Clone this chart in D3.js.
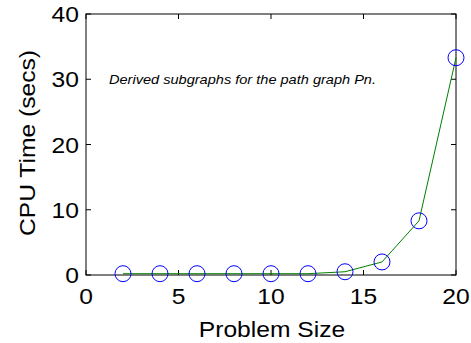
<!DOCTYPE html>
<html>
<head>
<meta charset="utf-8">
<script src="https://cdn.jsdelivr.net/npm/d3@7"></script>
<style>
  body { margin: 0; background: #fff; }
  text { font-family: "Liberation Sans", Arial, sans-serif; fill: #000; }
</style>
</head>
<body>
<div id="chart"></div>
<script>
const WIDTH = 471;
const HEIGHT = 343;

const problemSize = [2, 4, 6, 8, 10, 12, 14, 16, 18, 20];
const cpuTime = [0.2, 0.2, 0.2, 0.2, 0.2, 0.2, 0.5, 2.0, 8.3, 33.3];
const xTicks = [0, 5, 10, 15, 20];
const yTicks = [0, 10, 20, 30, 40];

const LEFT = 86, RIGHT = 456, TOP = 14, BOTTOM = 275;
const SX = 1.12; // text in the reference looks stretched along its length

const svg = d3.select('#chart').append('svg')
  .attr('width', WIDTH)
  .attr('height', HEIGHT);

const x = d3.scaleLinear().domain([0, 20]).range([LEFT, RIGHT]);
const y = d3.scaleLinear().domain([0, 40]).range([BOTTOM, TOP]);

// frame
svg.append('rect')
  .attr('x', LEFT).attr('y', TOP)
  .attr('width', RIGHT - LEFT).attr('height', BOTTOM - TOP)
  .attr('fill', 'none').attr('stroke', '#000').attr('stroke-width', 1);

const tick = 5;
const axisG = svg.append('g').attr('stroke', '#000').attr('stroke-width', 1);
xTicks.forEach(t => {
  axisG.append('line').attr('x1', x(t)).attr('x2', x(t)).attr('y1', BOTTOM).attr('y2', BOTTOM - tick);
  axisG.append('line').attr('x1', x(t)).attr('x2', x(t)).attr('y1', TOP).attr('y2', TOP + tick);
});
yTicks.forEach(t => {
  axisG.append('line').attr('x1', LEFT).attr('x2', LEFT + tick).attr('y1', y(t)).attr('y2', y(t));
  axisG.append('line').attr('x1', RIGHT).attr('x2', RIGHT - tick).attr('y1', y(t)).attr('y2', y(t));
});

const label = (tx, ty, str, size, anchor, extra) => {
  const g = svg.append('g').attr('transform', `translate(${tx},${ty}) ${extra || ''} scale(${SX},1)`);
  return g.append('text').attr('font-size', size).attr('text-anchor', anchor).text(str);
};

xTicks.forEach(t => label(x(t), 304, t, 22, 'middle'));
yTicks.forEach(t => label(LEFT - 7, y(t) + 8, t, 22, 'end'));

label(272, 337, 'Problem Size', 22, 'middle');
label(35, 143, 'CPU Time (secs)', 22, 'middle', 'rotate(-90)');

label(109, 84, 'Derived subgraphs for the path graph Pn.', 13, 'start')
  .attr('font-style', 'italic');

const data = problemSize.map((d, i) => ({ x: d, y: cpuTime[i] }));

svg.append('path')
  .datum(data)
  .attr('fill', 'none')
  .attr('stroke', '#008000')
  .attr('stroke-width', 1)
  .attr('d', d3.line().x(d => x(d.x)).y(d => y(d.y)));

svg.append('g').selectAll('circle')
  .data(data)
  .join('circle')
  .attr('cx', d => x(d.x))
  .attr('cy', d => y(d.y))
  .attr('r', 8)
  .attr('fill', 'none')
  .attr('stroke', '#0000ff')
  .attr('stroke-width', 1);
</script>
</body>
</html>
